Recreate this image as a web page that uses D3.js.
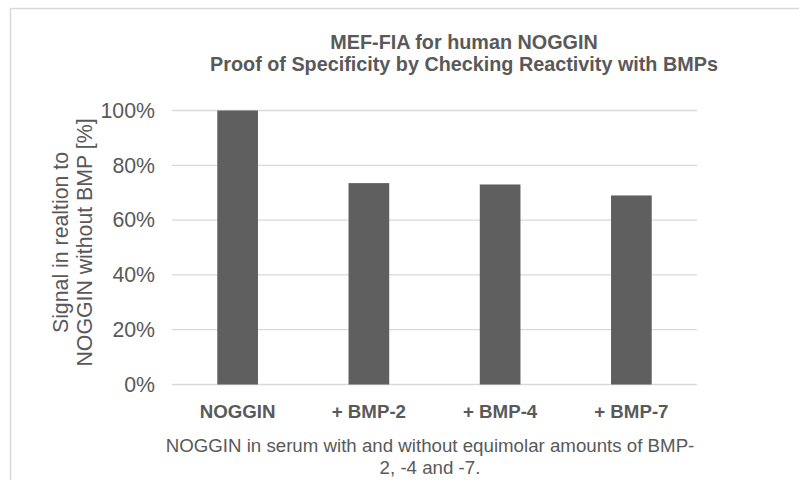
<!DOCTYPE html>
<html>
<head>
<meta charset="utf-8">
<script src="https://cdn.jsdelivr.net/npm/d3@7"></script>
<style>
  body { margin: 0; background: #fff; }
  text { font-family: "Liberation Sans", Arial, sans-serif; fill: #595959; }
</style>
</head>
<body>
<div id="canvas"></div>
<script>
  const w = 799;
  const h = 480;

  // data
  const categories = ["NOGGIN", "+ BMP-2", "+ BMP-4", "+ BMP-7"];
  const values = [1.0, 0.735, 0.73, 0.69];
  const yTicks = [0, 0.2, 0.4, 0.6, 0.8, 1.0];
  const titleLines = ["MEF-FIA for human NOGGIN", "Proof of Specificity by Checking Reactivity with BMPs"];
  const yTitleLines = ["Signal in realtion to", "NOGGIN without BMP [%]"];
  const xTitleLines = ["NOGGIN in serum with and without equimolar amounts of BMP-", "2, -4 and -7."];

  const plot = { left: 172, right: 697, top: 110.5, bottom: 384.5 };
  const font = "Liberation Sans, Arial, sans-serif";

  const svg = d3.select("#canvas")
    .append("svg")
    .attr("width", w)
    .attr("height", h);

  // chart border (runs off the right and bottom of the picture)
  svg.append("rect")
    .attr("x", 10.5)
    .attr("y", 8.5)
    .attr("width", 900)
    .attr("height", 600)
    .attr("fill", "none")
    .attr("stroke", "#d9d9d9")
    .attr("stroke-width", 1.5);

  const x = d3.scaleBand()
    .domain(categories)
    .range([plot.left, plot.right])
    .paddingInner(0.69)
    .paddingOuter(0.345);

  const y = d3.scaleLinear()
    .domain([0, 1])
    .range([plot.bottom, plot.top]);

  // gridlines
  svg.append("g")
    .selectAll("line")
    .data(yTicks)
    .enter()
      .append("line")
      .attr("x1", plot.left)
      .attr("x2", plot.right)
      .attr("y1", d => y(d))
      .attr("y2", d => y(d))
      .attr("stroke", "#d9d9d9")
      .attr("stroke-width", 1.3);

  // y axis labels
  const yAxis = svg.append("g")
    .attr("transform", "translate(155,0)")
    .call(d3.axisLeft(y).tickValues(yTicks).tickFormat(d3.format(".0%")).tickSize(0).tickPadding(0));
  yAxis.select(".domain").remove();
  yAxis.selectAll("text")
    .attr("font-size", "21.3px")
    .attr("font-family", font)
    .attr("fill", "#595959");

  // bars
  svg.append("g")
    .selectAll("rect")
    .data(values)
    .enter()
      .append("rect")
      .attr("x", (d, i) => x(categories[i]))
      .attr("y", d => y(d))
      .attr("width", x.bandwidth())
      .attr("height", d => y(0) - y(d))
      .attr("fill", "#5f5f5f");

  // x axis labels
  const xAxis = svg.append("g")
    .attr("transform", "translate(0," + plot.bottom + ")")
    .call(d3.axisBottom(x).tickSize(0).tickPadding(20));
  xAxis.select(".domain").remove();
  xAxis.selectAll("text")
    .attr("font-size", "18.7px")
    .attr("font-weight", "bold")
    .attr("font-family", font)
    .attr("fill", "#595959");

  // title
  svg.append("g")
    .selectAll("text")
    .data(titleLines)
    .enter()
      .append("text")
      .attr("x", 464)
      .attr("y", (d, i) => 49 + i * 22)
      .attr("text-anchor", "middle")
      .attr("font-size", "19.8px")
      .attr("font-weight", "bold")
      .text(d => d);

  // y axis title
  svg.append("g")
    .attr("transform", "translate(0,242.5) rotate(-90)")
    .selectAll("text")
    .data(yTitleLines)
    .enter()
      .append("text")
      .attr("x", 0)
      .attr("y", (d, i) => 67.5 + i * 24.5)
      .attr("text-anchor", "middle")
      .attr("font-size", "21.3px")
      .text(d => d);

  // x axis title
  svg.append("g")
    .selectAll("text")
    .data(xTitleLines)
    .enter()
      .append("text")
      .attr("x", 430)
      .attr("y", (d, i) => 452 + i * 21.5)
      .attr("text-anchor", "middle")
      .attr("font-size", "18.7px")
      .text(d => d);
</script>
</body>
</html>
